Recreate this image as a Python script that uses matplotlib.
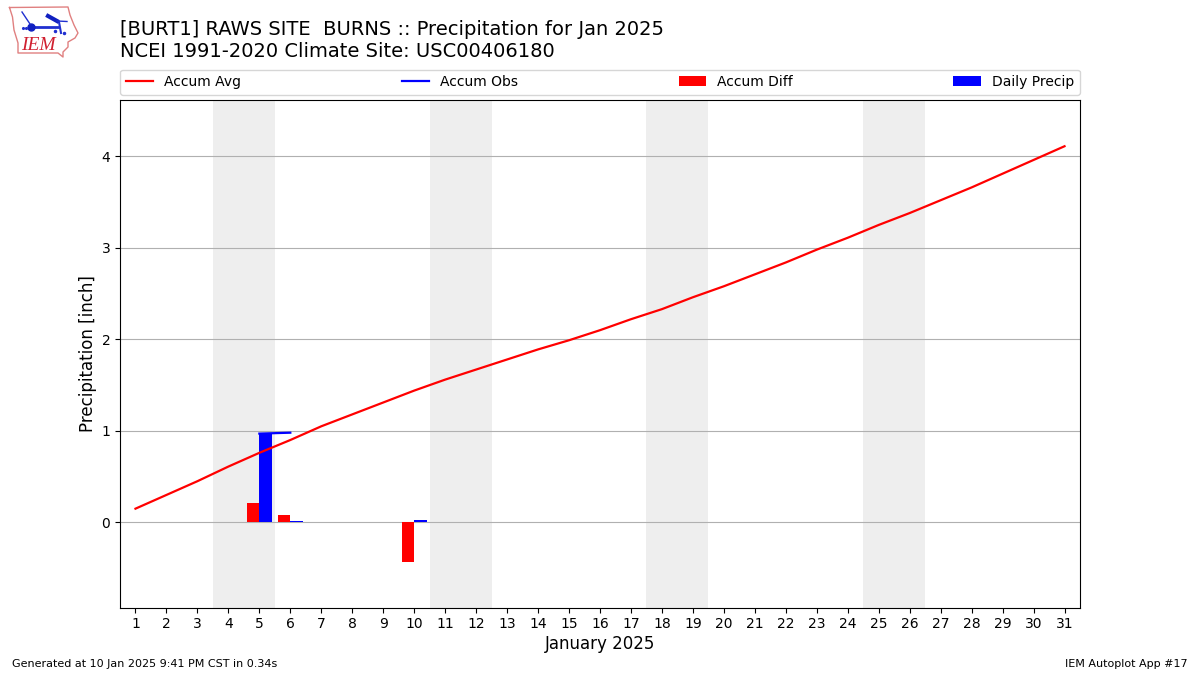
import matplotlib
matplotlib.use("Agg")
import matplotlib.pyplot as plt
import numpy as np

days = np.arange(1, 32)
accum_avg = [0.15, 0.30, 0.45, 0.61, 0.76, 0.90, 1.05, 1.18, 1.31, 1.44, 1.56,
             1.67, 1.78, 1.89, 1.99, 2.10, 2.22, 2.33, 2.46, 2.58, 2.71, 2.84,
             2.98, 3.11, 3.25, 3.38, 3.52, 3.66, 3.81, 3.96, 4.11]
obs_days = [5, 6]
accum_obs = [0.97, 0.98]
diff_days = [5, 6, 10]
accum_diff = [0.21, 0.08, -0.43]
precip_days = [5, 6, 10]
daily_precip = [0.97, 0.012, 0.025]
weekends = [(3.5, 5.5), (10.5, 12.5), (17.5, 19.5), (24.5, 26.5)]

fig = plt.figure(figsize=(12, 6.75), dpi=100)
ax = fig.add_axes([0.1, 0.1, 0.8, 0.7525])

for start, end in weekends:
    ax.axvspan(start, end, color="#eeeeee", lw=0, zorder=0)

ax.bar(precip_days, daily_precip, width=0.4, align="edge", color="b", label="Daily Precip", zorder=3)
ax.bar(diff_days, accum_diff, width=-0.4, align="edge", color="r", label="Accum Diff", zorder=3)
ax.plot(days, accum_avg, color="r", lw=2 * 0.8, label="Accum Avg", zorder=4)
ax.plot(obs_days, accum_obs, color="b", lw=2 * 0.8, label="Accum Obs", zorder=4)

ax.set_xlim(0.5, 31.5)
ax.set_ylim(-0.93, 4.62)
ax.set_xticks(days)
ax.set_yticks([0, 1, 2, 3, 4])
ax.yaxis.grid(True, color="#b0b0b0", lw=0.8)
ax.set_axisbelow(True)
ax.set_xlabel("January 2025", fontsize=12, labelpad=3)
ax.set_ylabel("Precipitation [inch]", fontsize=12, labelpad=3)

handles, labels = ax.get_legend_handles_labels()
order = [labels.index(n) for n in ["Accum Avg", "Accum Obs", "Accum Diff", "Daily Precip"]]
ax.legend([handles[i] for i in order], [labels[i] for i in order], ncol=4, mode="expand",
          loc="lower left", bbox_to_anchor=(0, 1.0095, 1, 0.05), borderaxespad=0, fontsize=10)

fig.text(0.1, 0.909, "[BURT1] RAWS SITE  BURNS :: Precipitation for Jan 2025\nNCEI 1991-2020 Climate Site: USC00406180",
         fontsize=14, va="bottom", ha="left", linespacing=1.2, transform=fig.transFigure)
fig.text(0.01, 0.012, "Generated at 10 Jan 2025 9:41 PM CST in 0.34s", fontsize=8)
fig.text(0.99, 0.012, "IEM Autoplot App #17", fontsize=8, ha="right")

# logo, in pixel coordinates
logo = fig.add_axes([0, 1 - 60 / 675, 80 / 1200, 60 / 675])
logo.set_xlim(0, 80)
logo.set_ylim(60, 0)
logo.axis("off")
outline_x = [9.5, 68, 70, 74, 78, 75, 68, 68, 63, 63, 58, 18, 18, 14, 12.5, 9.5]
outline_y = [7.5, 7, 15, 25, 33, 38, 42, 47, 52, 57, 53, 53, 43, 30, 17, 7.5]
logo.plot(outline_x, outline_y, color="#e08080", lw=1)
logo.plot([31, 58], [27, 27], color="#2030d0", lw=2)
logo.plot([31], [27], "o", color="#1020c0", ms=5)
logo.plot([59, 61], [22, 33], color="#2030d0", lw=1.5)
logo.plot([48, 57], [16, 21], color="#1020c0", lw=3)
logo.plot([57, 67], [21, 21.5], color="#2030d0", lw=1)
logo.plot([22, 30], [12, 24], color="#2030d0", lw=1)
logo.plot([55, 64], [31, 33], ".", color="#2030d0", ms=3)
logo.plot([23, 26], [28, 28], ".", color="#2030d0", ms=2.5)
logo.text(38, 45.5, "IEM", family="Liberation Serif", style="italic", color="#d02030",
          fontsize=14, ha="center", va="center")

fig.savefig("out.png", dpi=100)
